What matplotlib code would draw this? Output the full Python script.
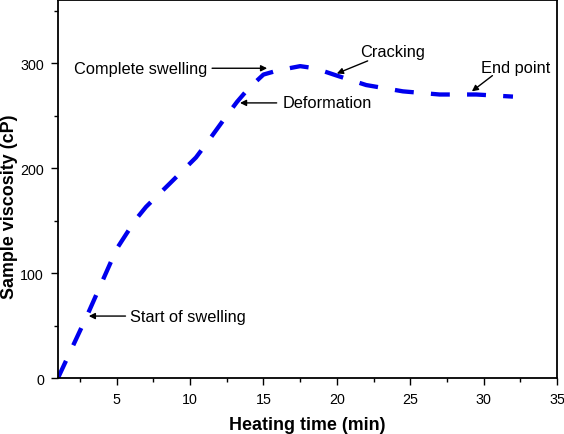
import matplotlib.pyplot as plt
from matplotlib.ticker import MultipleLocator

plt.rcParams['font.family'] = ['Liberation Sans', 'DejaVu Sans']

# Données
temps = [1, 3, 5, 5.6, 6.3, 7, 7.8, 8.6, 10.4, 11.1, 12.5, 13.2, 14, 15, 16, 17.5, 18.5, 20,
         22, 24.5, 27, 29.5, 32]
viscosite = [0, 60, 123, 136, 151, 163, 174, 185, 210, 223, 250, 263, 276, 289, 293, 297, 295, 288,
             279, 273, 270, 270, 268]

# Annotations : texte, position du texte, pointe de la flèche
etiquettes = ['Start of swelling', 'Complete swelling', 'Deformation', 'Cracking', 'End point']
pos_texte = [(5.9, 59), (11.2, 295), (16.3, 262), (23.8, 311), (32.2, 296)]
pos_fleche = [(3.1, 59), (15.25, 295), (13.4, 262), (20.0, 290), (29.2, 273)]
queue_fleche = [(5.6, 59), (11.5, 295), (15.9, 262), (22.1, 302), (30.6, 288)]
alignement = ['left', 'right', 'left', 'center', 'center']

fig = plt.figure(figsize=(5.64, 4.35), dpi=100)
ax = fig.add_axes([0.1028, 0.1287, 0.8848, 0.869])

ax.plot(temps, viscosite, color='#0000ee', linewidth=3.1,
        linestyle=(0, (4.4, 4.0)), dash_capstyle='butt')

for txt, pt, tip, tail, ha in zip(etiquettes, pos_texte, pos_fleche, queue_fleche, alignement):
    ax.text(pt[0], pt[1], txt, ha=ha, va='center', fontsize=11.8)
    ax.annotate('', xy=tip, xytext=tail,
                arrowprops=dict(arrowstyle='-|>', color='black', lw=1,
                                mutation_scale=9, shrinkA=0, shrinkB=0))

ax.set_xlim(1, 35)
ax.set_ylim(0, 360)
ax.xaxis.set_minor_locator(MultipleLocator(2.5))
ax.yaxis.set_minor_locator(MultipleLocator(50))
ax.set_xticks([5, 10, 15, 20, 25, 30, 35])
ax.set_yticks([0, 100, 200, 300])
ax.tick_params(which='major', direction='out', length=5, width=1, labelsize=10.3, pad=5)
ax.tick_params(which='minor', direction='out', length=3, width=1)
for s in ax.spines.values():
    s.set_linewidth(1.3)

ax.set_xlabel('Heating time (min)', fontsize=12.9, fontweight='bold')
ax.set_ylabel('Sample viscosity (cP)', fontsize=12.9, fontweight='bold')
ax.xaxis.set_label_coords(0.499, -0.122)
ax.yaxis.set_label_coords(-0.098, 0.455)
ax.xaxis.label.set_va('center')
ax.yaxis.label.set_va('center')

fig.savefig('out.png', dpi=100)
